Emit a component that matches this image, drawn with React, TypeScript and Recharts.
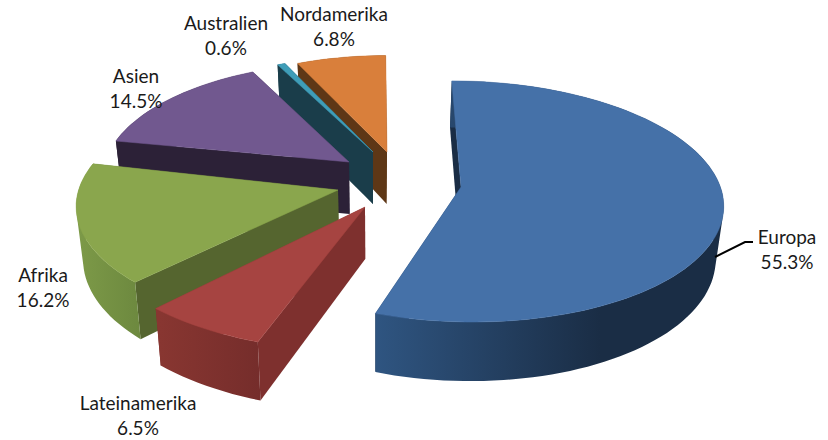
import { PieChart, Pie } from 'recharts';

// drawn back to front, so the order runs counterclockwise from 12 o'clock
const categories = ['Nordamerika', 'Australien', 'Asien', 'Afrika', 'Lateinamerika', 'Europa'];
const shares = [6.8, 0.6, 14.5, 16.2, 6.5, 55.3];
const shareLabels = ['6.8%', '0.6%', '14.5%', '16.2%', '6.5%', '55.3%'];

const topColors = ['#D97F3B', '#3F9DB8', '#71588F', '#8AA64D', '#A64441', '#4571A8'];
const wallColors = ['#5E3716', '#1A3D4A', '#2C2137', '#55652F', '#7E302E', '#1A2D45'];
const rimFrom = ['#5E3716', '#1A3D4A', '#2C2137', '#7D9A48', '#883631', '#2F5581'];
const rimTo = ['#5E3716', '#1A3D4A', '#2C2137', '#6D893F', '#752D2B', '#1A2D45'];

// where each exploded slice's tip sits on the page, and its size after perspective
const tipX = [387, 373, 349, 338, 365, 461];
const tipY = [152, 152, 162, 190, 207, 187];
const sliceScale = [0.9, 0.9, 0.93, 0.99, 1.06, 0.99];
const sliceTurn = [0, 0, 0, -2, -0.5, 0];
const rimRangeX = [[298, 387], [278, 373], [115, 349], [76, 139], [160, 261], [375, 600]];

const labelX = [334, 226, 136, 43, 138, 787];
const labelY = [21, 30, 83, 282, 410, 244];

const CENTER_X = 390;
const CENTER_Y = 175;
const RADIUS = 262;
const FLATTEN = 0.458;
const PERSPECTIVE = 0.12;
const DEPTH = 52;
const VANISH_X = 375;
const BOTTOM_SHRINK = 0.977;

type Pt = { x: number; y: number };

function rimPoint(i: number, radius: number, angle: number) {
  const a = ((angle + sliceTurn[i]) * Math.PI) / 180;
  const u = Math.cos(a);
  const v = -Math.sin(a);
  const s = 1 / (1 - PERSPECTIVE * v);
  const r = radius * sliceScale[i];
  const x = tipX[i] + u * r * s + (tipX[i] - VANISH_X) * (s - 1);
  const y = tipY[i] + v * r * FLATTEN * s;
  return { x, y, s, v };
}

function lower(p: { x: number; y: number; s: number }) {
  return { x: VANISH_X + (p.x - VANISH_X) * BOTTOM_SHRINK, y: p.y + DEPTH * p.s };
}

const toPath = (pts: Pt[]) =>
  pts.map((p, n) => `${n ? 'L' : 'M'}${p.x.toFixed(1)} ${p.y.toFixed(1)}`).join(' ') + ' Z';

// same winding for every strip, so overlaps near the tangent stay filled
function wound(pts: Pt[]) {
  let area = 0;
  pts.forEach((p, n) => {
    const q = pts[(n + 1) % pts.length];
    area += p.x * q.y - q.x * p.y;
  });
  return area < 0 ? [...pts].reverse() : pts;
}

function Slice3D(props: any) {
  const { outerRadius, startAngle, endAngle } = props;
  const name = props.payload?.name ?? props.name;
  const i = categories.indexOf(name);

  const rim = [];
  const steps = Math.max(2, Math.ceil(Math.abs(endAngle - startAngle) / 2));
  for (let n = 0; n <= steps; n++) {
    rim.push(rimPoint(i, outerRadius, startAngle + ((endAngle - startAngle) * n) / steps));
  }
  const tip = { x: tipX[i], y: tipY[i], s: 1 };
  const first = rim[0];
  const last = rim[rim.length - 1];
  const walls = [first, last].sort((a, b) => a.v - b.v);
  const gradId = `rim-${i}`;
  const rimPath = rim
    .slice(1)
    .map((p, n) => toPath(wound([rim[n], p, lower(p), lower(rim[n])])))
    .join(' ');

  return (
    <g>
      <defs>
        <linearGradient id={gradId} gradientUnits="userSpaceOnUse" x1={rimRangeX[i][0]} x2={rimRangeX[i][1]} y1={0} y2={0}>
          <stop offset="0%" stopColor={rimFrom[i]} />
          <stop offset="100%" stopColor={rimTo[i]} />
        </linearGradient>
      </defs>
      {walls.map((w, n) => (
        <path key={n} d={toPath([tip, w, lower(w), lower(tip)])} fill={wallColors[i]} />
      ))}
      <path d={rimPath} fill={`url(#${gradId})`} />
      <path d={toPath([tip, ...rim])} fill={topColors[i]} stroke={topColors[i]} strokeWidth={0.5} />
    </g>
  );
}

function SliceLabel(props: any) {
  const i = categories.indexOf(props.payload?.name ?? props.name);
  return (
    <g>
      {categories[i] === 'Europa' && (
        <polyline points="715,257 745,242 753,242" fill="none" stroke="#000" strokeWidth={2} />
      )}
      <text x={labelX[i]} y={labelY[i]} textAnchor="middle" fontFamily="Lato, sans-serif" fontSize={19} fill="#1a1a1a">
        <tspan x={labelX[i]}>{categories[i]}</tspan>
        <tspan x={labelX[i]} dy={24.5}>{shareLabels[i]}</tspan>
      </text>
    </g>
  );
}

const tableData = categories.map((name, i) => ({ name, value: shares[i] }));

export default function App() {
  return (
    <div style={{ position: 'absolute', left: 0, top: 0, width: 828, height: 440, background: '#fff' }}>
      <PieChart width={828} height={440} margin={{ top: 0, right: 0, bottom: 0, left: 0 }}>
        <Pie
          data={tableData}
          dataKey="value"
          nameKey="name"
          cx={CENTER_X}
          cy={CENTER_Y}
          innerRadius={0}
          outerRadius={RADIUS}
          startAngle={90}
          endAngle={450}
          stroke="none"
          isAnimationActive={false}
          shape={Slice3D}
          activeShape={Slice3D}
          inactiveShape={Slice3D}
          label={SliceLabel}
          labelLine={false}
        />
      </PieChart>
    </div>
  );
}
